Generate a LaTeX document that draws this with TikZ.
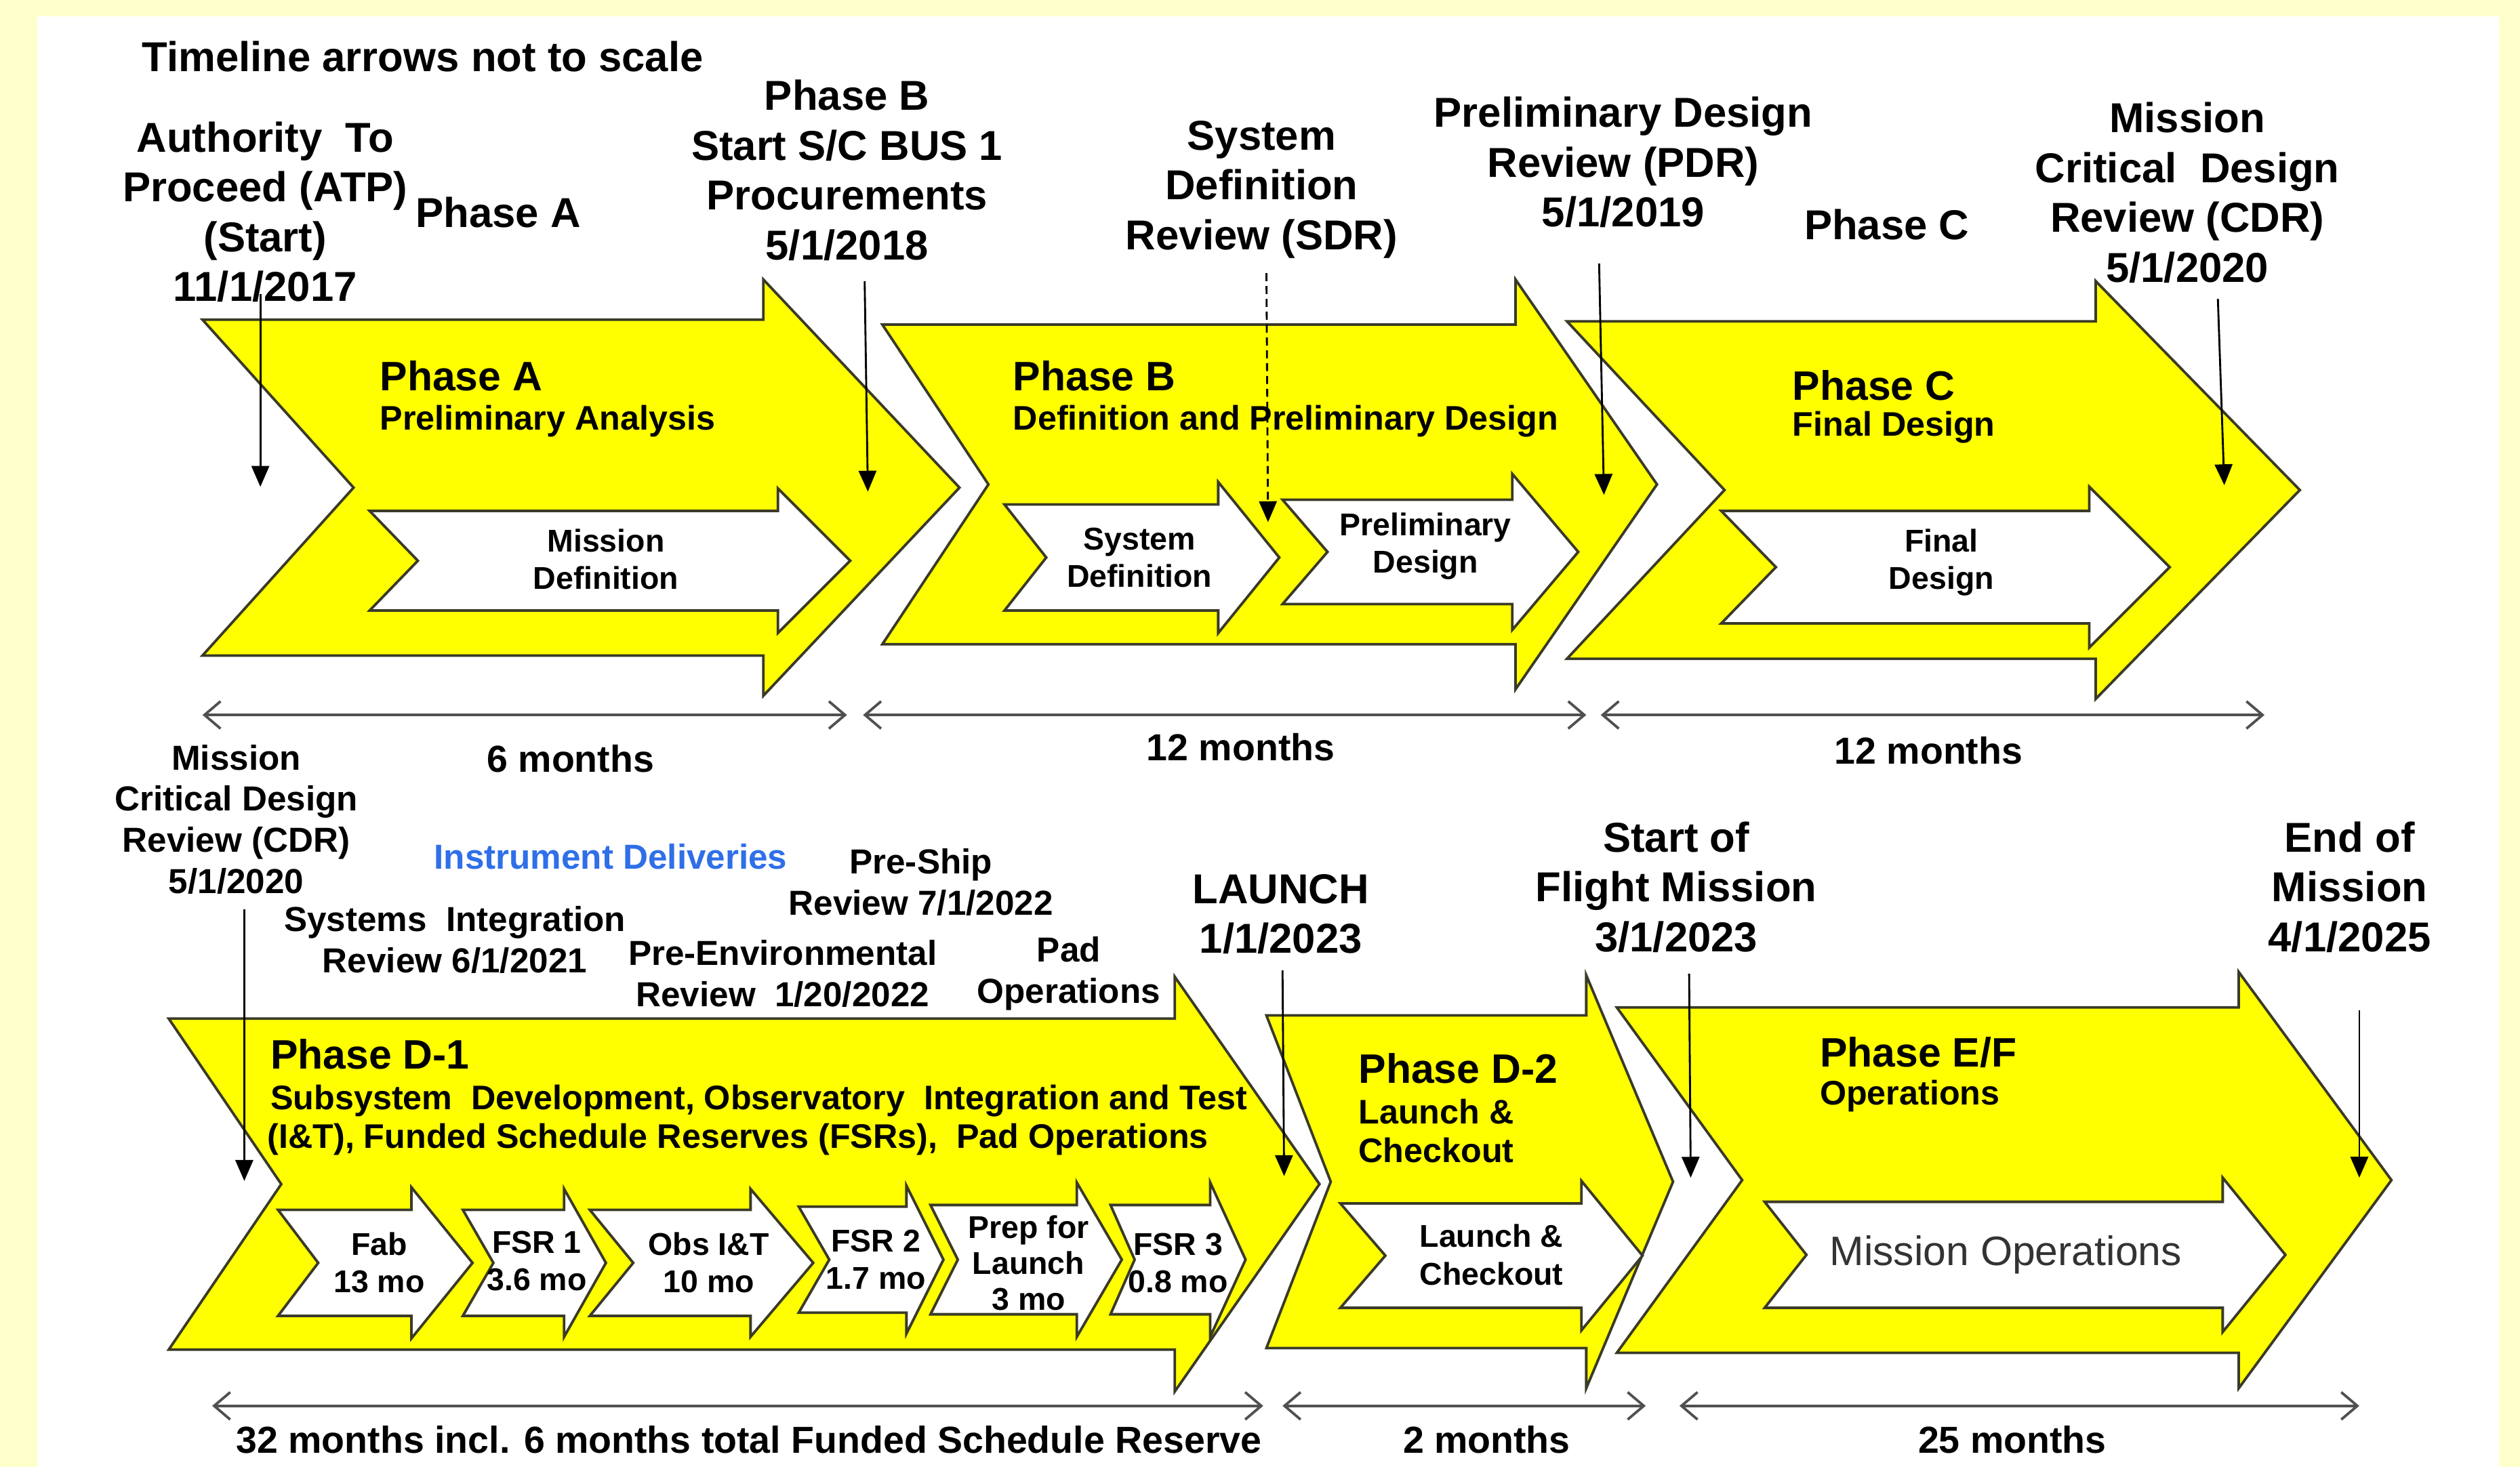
\documentclass[tikz,border=0pt]{standalone}
\usepackage{fontspec}
\setmainfont{Liberation Sans}
\usetikzlibrary{arrows.meta}
\definecolor{bgyel}{HTML}{FFFFCC}
\definecolor{outl}{HTML}{3A3A28}
\definecolor{dimc}{HTML}{505050}
\definecolor{instblue}{HTML}{2F6FE8}
\definecolor{opsgray}{HTML}{333333}
\definecolor{phyel}{HTML}{FFFF00}
\newcommand{\chev}[8]{%
  \draw[#1] (#2,#6) -- (#4,#6) -- (#4,#6-#8) -- (#5,{(#6+#7)/2}) -- (#4,#7+#8)
    -- (#4,#7) -- (#2,#7) -- (#3,{(#6+#7)/2}) -- cycle;}
\tikzset{
  big/.style={fill=phyel, draw=outl, line width=0.8pt, line join=miter},
  small/.style={fill=white, draw=outl, line width=0.8pt, line join=miter},
  mile/.style={-{Triangle[width=5.5pt,length=6.5pt]}, line width=0.6pt, black},
  dim/.style={{Straight Barb[length=5pt,width=8.5pt]}-{Straight Barb[length=5pt,width=8.5pt]}, line width=0.8pt, dimc},
  lbl/.style={font=\bfseries\fontsize{13}{15.5}\selectfont, align=center, inner sep=0pt},
  lbls/.style={font=\bfseries\fontsize{10.8}{12.8}\selectfont, align=center, inner sep=0pt},
  ttl/.style={font=\bfseries\fontsize{12.8}{15}\selectfont, anchor=west, inner sep=0pt},
  subt/.style={font=\bfseries\fontsize{10.6}{12.7}\selectfont, anchor=west, inner sep=0pt},
  inl/.style={font=\bfseries\fontsize{9.8}{11.6}\selectfont, align=center, inner sep=0pt},
  dl/.style={font=\bfseries\fontsize{11.7}{14}\selectfont, inner sep=0pt}
}
\begin{document}
\begin{tikzpicture}[x=0.5pt, y=-0.5pt]
\useasboundingbox (0,0) rectangle (1568,913);
\fill[bgyel] (0,0) rectangle (1568,913);
\fill[white] (23,10) rectangle (1555,913);

% ---------- top row big arrows ----------
\chev{big}{126}{220}{475}{597}{199}{408}{25}
\chev{big}{549}{615}{943}{1031}{202}{401}{28}
\chev{big}{975}{1073}{1304}{1431}{200}{410}{25}
% inner arrows
\chev{small}{230}{260}{484}{529}{318}{380}{14}
\chev{small}{625}{651}{758}{796}{314}{380}{14}
\chev{small}{798}{826}{941}{982}{311}{376}{16}
\chev{small}{1071}{1105}{1300}{1350}{318}{388}{15}

% ---------- bottom row big arrows ----------
\chev{big}{105}{175}{731}{821}{634}{840}{26}
\chev{big}{788}{828}{987}{1041}{632}{839}{25}
\chev{big}{1006}{1084}{1393}{1488}{627}{842}{22}
% inner arrows
\chev{small}{173}{198}{256}{294}{753}{819}{14}
\chev{small}{288}{307}{351}{377}{753}{819}{13}
\chev{small}{367}{394}{467}{506}{753}{819}{13}
\chev{small}{497}{516}{564}{587}{751}{817}{13}
\chev{small}{579}{596}{670}{698}{750}{818}{14}
\chev{small}{691}{706}{753}{775}{750}{818}{14}
\chev{small}{834}{862}{984}{1022}{749}{814}{14}
\chev{small}{1098}{1124}{1383}{1422}{748}{814}{15}

% ---------- top labels ----------
\node[lbl] (note) at (263,35) {Timeline arrows not to scale};
\node[lbl] (atp) at (165,132) {Authority\ \ To\\Proceed (ATP)\\(Start)\\11/1/2017};
\node[lbl] (pha) at (310,132) {Phase A};
\node[lbl] (phb) at (527,106) {Phase B\\Start S/C BUS 1\\Procurements\\5/1/2018};
\node[lbl] (sdr) at (785,118) {System\\Definition\\Review (SDR)};
\node[lbl] (pdr) at (1010,101) {Preliminary Design\\Review (PDR)\\5/1/2019};
\node[lbl] (phc) at (1174,140) {Phase C};
\node[lbl] (cdr) at (1361,120) {Mission\\Critical\ \ Design\\Review (CDR)\\5/1/2020};

% titles in big arrows
\node[ttl] (ta) at (236,234) {Phase A};
\node[subt] (sa) at (236,262) {Preliminary Analysis};
\node[ttl] (tb) at (630,234) {Phase B};
\node[subt] (sb) at (630,262) {Definition and Preliminary Design};
\node[ttl] (tc) at (1115,240) {Phase C};
\node[subt] (sc) at (1115,266) {Final Design};

% inner labels
\node[inl] (md) at (377,348) {Mission\\Definition};
\node[inl] (sd) at (709,347) {System\\Definition};
\node[inl] (pd) at (887,340) {Preliminary\\Design};
\node[inl] (fd) at (1208,350) {Final\\Design};

% milestone arrows top
\coordinate (atpS) at (162,183); \coordinate (atpE) at (162,303);
\coordinate (phbS) at (538,175); \coordinate (phbE) at (540,306);
\coordinate (sdrS) at (788,170); \coordinate (sdrE) at (789,325);
\coordinate (pdrS) at (995,164); \coordinate (pdrE) at (998,308);
\coordinate (cdrS) at (1380,186); \coordinate (cdrE) at (1384,302);
\draw[mile] (atpS) -- (atpE);
\draw[mile] (phbS) -- (phbE);
\draw[mile, dash pattern=on 2.5pt off 1.5pt] (sdrS) -- (sdrE);
\draw[mile] (pdrS) -- (pdrE);
\draw[mile] (cdrS) -- (cdrE);

% dimension arrows top
\coordinate (d1a) at (126,445); \coordinate (d1b) at (527,445);
\coordinate (d2a) at (537,445); \coordinate (d2b) at (987,445);
\coordinate (d3a) at (996,445); \coordinate (d3b) at (1409,445);
\draw[dim] (d1a) -- (d1b);
\draw[dim] (d2a) -- (d2b);
\draw[dim] (d3a) -- (d3b);
\node[dl] (m6) at (355,472) {6 months};
\node[dl] (m12a) at (772,465) {12 months};
\node[dl] (m12b) at (1200,467) {12 months};

% ---------- bottom labels ----------
\node[lbls] (cdr2) at (147,510) {Mission\\Critical Design\\Review (CDR)\\5/1/2020};
\node[lbls, text=instblue] (inst) at (380,533) {Instrument Deliveries};
\node[lbls] (sir) at (283,585) {Systems\ \ Integration\\Review 6/1/2021};
\node[lbls] (per) at (487,606) {Pre-Environmental\\Review\ \ 1/20/2022};
\node[lbls] (psr) at (573,549) {Pre-Ship\\Review 7/1/2022};
\node[lbls] (pado) at (665,606) {Pad\\Operations};
\node[lbl] (lau) at (797,569) {LAUNCH\\1/1/2023};
\node[lbl] (sfm) at (1043,552) {Start of\\Flight Mission\\3/1/2023};
\node[lbl] (eom) at (1462,552) {End of\\Mission\\4/1/2025};

\node[ttl] (td1) at (168,656) {Phase D-1};
\node[subt] (sd1a) at (168,685) {Subsystem\ \ Development, Observatory\ \ Integration and Test};
\node[subt] (sd1b) at (166,709) {(I\&T), Funded Schedule Reserves (FSRs),\ \ Pad Operations};
\node[ttl] (td2) at (845,665) {Phase D-2};
\node[subt] (sd2a) at (845,692) {Launch \&};
\node[subt] (sd2b) at (845,716) {Checkout};
\node[ttl] (tef) at (1132,655) {Phase E/F};
\node[subt] (sef) at (1132,682) {Operations};

\node[inl] (fab) at (236,786) {Fab\\13 mo};
\node[inl] (fsr1) at (334,785) {FSR\ 1\\3.6 mo};
\node[inl] (obs) at (441,786) {Obs I\&T\\10 mo};
\node[inl] (fsr2) at (545,784) {FSR\ 2\\1.7 mo};
\node[inl, font=\bfseries\fontsize{9.8}{11.2}\selectfont] (prep) at (640,786) {Prep for\\Launch\\3 mo};
\node[inl] (fsr3) at (733,786) {FSR\ 3\\0.8 mo};
\node[inl] (lc) at (928,781) {Launch \&\\Checkout};
\node[inner sep=0pt, font=\fontsize{12.8}{15}\selectfont, text=opsgray] (mo) at (1248,781) {Mission Operations};

% milestone arrows bottom
\coordinate (cdr2S) at (152,566); \coordinate (cdr2E) at (152,735);
\coordinate (lauS) at (798,604); \coordinate (lauE) at (799,732);
\coordinate (sfmS) at (1051,606); \coordinate (sfmE) at (1052,733);
\coordinate (eomS) at (1468,629); \coordinate (eomE) at (1468,733);
\draw[mile] (cdr2S) -- (cdr2E);
\draw[mile] (lauS) -- (lauE);
\draw[mile] (sfmS) -- (sfmE);
\draw[mile] (eomS) -- (eomE);

% dimension arrows bottom
\coordinate (e1a) at (132,875); \coordinate (e1b) at (786,875);
\coordinate (e2a) at (798,875); \coordinate (e2b) at (1024,875);
\coordinate (e3a) at (1045,875); \coordinate (e3b) at (1468,875);
\draw[dim] (e1a) -- (e1b);
\draw[dim] (e2a) -- (e2b);
\draw[dim] (e3a) -- (e3b);
\node[dl] (m32) at (466,896) {32 months incl. 6 months total Funded Schedule Reserve};
\node[dl] (m2) at (925,896) {2 months};
\node[dl] (m25) at (1252,896) {25 months};
\end{tikzpicture}
\end{document}
